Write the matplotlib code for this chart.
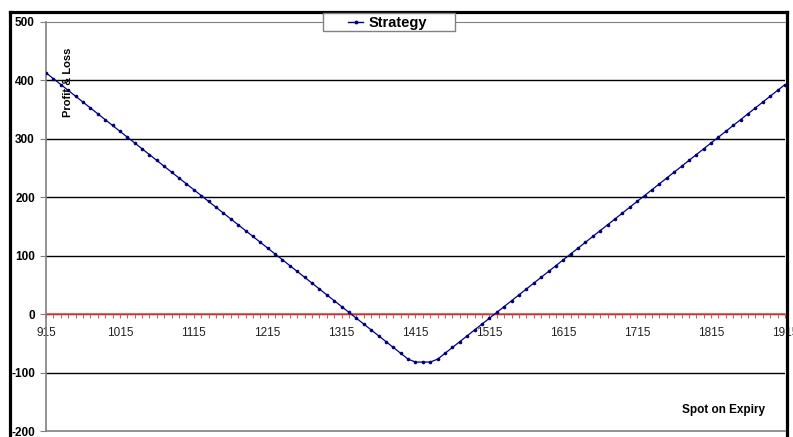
import matplotlib.pyplot as plt
from matplotlib.lines import Line2D
from matplotlib.patches import Rectangle

plt.rcParams['font.family'] = ['Liberation Sans', 'DejaVu Sans']

# spot price at expiry (categories on the x axis)
spot = [915, 925, 935, 945, 955, 965, 975, 985, 995, 1005,
        1015, 1025, 1035, 1045, 1055, 1065, 1075, 1085, 1095, 1105,
        1115, 1125, 1135, 1145, 1155, 1165, 1175, 1185, 1195, 1205,
        1215, 1225, 1235, 1245, 1255, 1265, 1275, 1285, 1295, 1305,
        1315, 1325, 1335, 1345, 1355, 1365, 1375, 1385, 1395, 1405,
        1415, 1425, 1435, 1445, 1455, 1465, 1475, 1485, 1495, 1505,
        1515, 1525, 1535, 1545, 1555, 1565, 1575, 1585, 1595, 1605,
        1615, 1625, 1635, 1645, 1655, 1665, 1675, 1685, 1695, 1705,
        1715, 1725, 1735, 1745, 1755, 1765, 1775, 1785, 1795, 1805,
        1815, 1825, 1835, 1845, 1855, 1865, 1875, 1885, 1895, 1905,
        1915]

# profit & loss of the strategy at each spot
pnl = [413, 403, 393, 383, 373, 363, 353, 343, 333, 323,
       313, 303, 293, 283, 273, 263, 253, 243, 233, 223,
       213, 203, 193, 183, 173, 163, 153, 143, 133, 123,
       113, 103, 93, 83, 73, 63, 53, 43, 33, 23,
       13, 3, -7, -17, -27, -37, -47, -57, -67, -77,
       -82, -82, -82, -77, -67, -57, -47, -37, -27, -17,
       -7, 3, 13, 23, 33, 43, 53, 63, 73, 83,
       93, 103, 113, 123, 133, 143, 153, 163, 173, 183,
       193, 203, 213, 223, 233, 243, 253, 263, 273, 283,
       293, 303, 313, 323, 333, 343, 353, 363, 373, 383,
       393]

x_labels = [915, 1015, 1115, 1215, 1315, 1415, 1515, 1615, 1715, 1815, 1915]
y_ticks = [-200, -100, 0, 100, 200, 300, 400, 500]

W, H = 793, 437
fig = plt.figure(figsize=(W / 100, H / 100), dpi=100)
ax = fig.add_axes([46 / W, 1 - 431 / H, (785 - 46) / W, (431 - 22) / H])

ax.set_xlim(915, 1915)
ax.set_ylim(-200, 500)

# horizontal gridlines
for v in y_ticks[1:-1]:
    ax.axhline(v, color='black', lw=1, zorder=1)
ax.axhline(-200, color='#808080', lw=1.2, clip_on=False, zorder=1)

ax.plot(spot, pnl, color='#000080', lw=0.9, marker='o', markersize=1.6, zorder=3)

# category axis crosses at zero
ax.spines['bottom'].set_position(('data', 0))
ax.spines['bottom'].set_color('#ff4040')
ax.spines['bottom'].set_linewidth(1.1)
ax.spines['bottom'].set_zorder(2)
ax.spines['right'].set_visible(False)
ax.spines['top'].set_color('#808080')
ax.spines['left'].set_color('#808080')
ax.spines['left'].set_linewidth(1.2)

ax.set_xticks(x_labels)
ax.set_xticklabels([str(v) for v in x_labels], fontsize=8.5, color='#202020')
ax.set_xticks(spot, minor=True)
ax.tick_params(axis='x', which='both', direction='out', length=3, width=0.7,
               color='#ff4040', pad=6)

ax.set_yticks(y_ticks)
ax.set_yticklabels([str(v) for v in y_ticks], fontsize=8.5, fontweight='bold')
ax.tick_params(axis='y', direction='out', length=4, color='#808080', pad=4)

fig.text(68 / W, 1 - 82 / H, 'Profit & Loss', rotation=90, ha='center', va='center',
         fontsize=8, fontweight='bold')
fig.text(723 / W, 1 - 410 / H, 'Spot on Expiry', ha='center', va='center',
         fontsize=8.5, fontweight='bold')

# outer chart frame
for xs, ys in [((9.5, 9.5), (11.5, H)), ((9.5, 786.5), (11.5, 11.5)), ((786.5, 786.5), (11.5, H))]:
    fig.add_artist(Line2D([x / W for x in xs], [1 - y / H for y in ys],
                          color='black', lw=2.3, zorder=10))

# legend box
fig.add_artist(Rectangle((323 / W, 1 - 31 / H), (455 - 323) / W, (31 - 13) / H,
                         facecolor='white', edgecolor='#808080', lw=1, zorder=11))
fig.add_artist(Line2D([348 / W, 363 / W], [1 - 22 / H, 1 - 22 / H], color='#000080', lw=1, zorder=12))
fig.add_artist(Line2D([355.5 / W], [1 - 22 / H], color='#000080', marker='o', markersize=1.8, zorder=12))
fig.text(369 / W, 1 - 22.5 / H, 'Strategy', ha='left', va='center', fontsize=10.5,
         fontweight='bold', zorder=12)

fig.savefig('out.png', dpi=100)
